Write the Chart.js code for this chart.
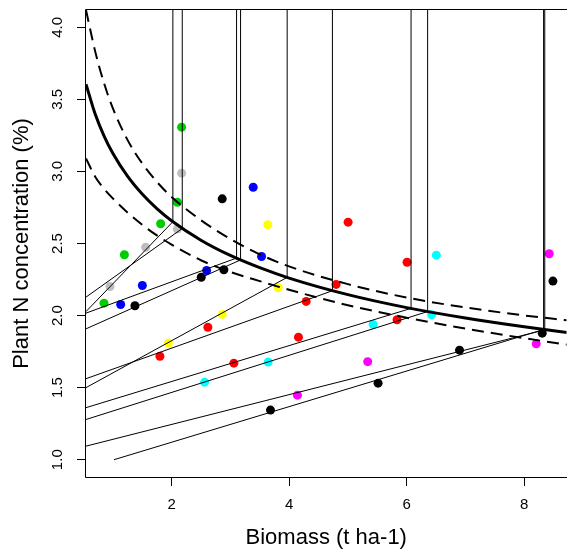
<!DOCTYPE html>
<html>
<head>
<meta charset="utf-8">
<script src="https://cdn.jsdelivr.net/npm/chart.js@4"></script>
<style>
  html, body { margin: 0; padding: 0; background: #fff; overflow: hidden; }
  canvas { display: block; }
</style>
</head>
<body>
<canvas id="grafico" width="571" height="554"></canvas>
<script>
// axis ticks
const xTicks = [2, 4, 6, 8];
const yTicks = [1.0, 1.5, 2.0, 2.5, 3.0, 3.5, 4.0];
const yTickLabels = ["1.0", "1.5", "2.0", "2.5", "3.0", "3.5", "4.0"];

// critical curve and its two bounds
const curveX = [0.544, 0.7, 0.85, 1.0, 1.25, 1.5, 1.75, 2.0, 2.5, 3.0, 3.5, 4.0, 5.0, 6.0, 7.0, 8.0, 8.8];
const curveY = [3.605, 3.398, 3.247, 3.126, 2.967, 2.843, 2.742, 2.658, 2.523, 2.417, 2.332, 2.260, 2.145, 2.055, 1.983, 1.922, 1.879];
const upperY = [4.12, 3.833, 3.614, 3.439, 3.219, 3.056, 2.928, 2.823, 2.662, 2.531, 2.425, 2.341, 2.218, 2.125, 2.056, 2.001, 1.964];
const lowerY = [3.09, 2.963, 2.880, 2.813, 2.715, 2.630, 2.556, 2.493, 2.384, 2.303, 2.239, 2.179, 2.072, 1.985, 1.910, 1.843, 1.794];

// observed points per group
const greenX = [0.85, 1.197, 1.814, 2.098, 2.171];
const greenY = [2.086, 2.422, 2.637, 2.786, 3.307];
const grayX = [0.952, 1.559, 2.098, 2.171];
const grayY = [2.202, 2.474, 2.600, 2.988];
const blueX = [1.134, 1.503, 2.596, 3.389, 3.531];
const blueY = [2.077, 2.209, 2.313, 2.890, 2.410];
const blackX = [1.377, 2.505, 2.89, 2.862, 3.683, 5.514, 6.9, 8.307, 8.489];
const blackY = [2.068, 2.266, 2.318, 2.81, 1.344, 1.531, 1.760, 1.878, 2.239];
const yellowX = [1.945, 2.863, 3.814, 3.638];
const yellowY = [1.809, 2.008, 2.193, 2.630];
const redX = [1.802, 2.618, 3.06, 4.159, 4.29, 4.8, 5.004, 6.007, 5.837];
const redY = [1.718, 1.919, 1.670, 1.850, 2.098, 2.216, 2.648, 2.370, 1.971];
const cyanX = [2.562, 3.644, 5.429, 6.425, 6.505];
const cyanY = [1.538, 1.677, 1.938, 2.005, 2.419];
const magentaX = [4.142, 5.337, 8.205, 8.426];
const magentaY = [1.448, 1.680, 1.804, 2.429];

// regression lines, from start to where they meet the curve
const lineStartX = [0.544, 0.544, 0.544, 0.544, 0.544, 0.544, 0.544, 0.544, 0.544, 1.02];
const lineStartY = [2.128, 2.028, 2.017, 1.908, 1.500, 1.562, 1.361, 1.279, 1.094, 1.0];
const lineEndX = [2.182, 2.022, 3.106, 3.174, 3.967, 4.737, 6.075, 6.357, 8.35, 8.33];
const lineEndY = [2.604, 2.651, 2.399, 2.386, 2.265, 2.172, 2.050, 2.028, 1.901, 1.903];
const topY = 4.12;

function pares(xs, ys) {
    return xs.map((x, i) => ({ x: x, y: ys[i] }));
}

let datasets = [];

function grupo(xs, ys, color) {
    datasets.push({
        data: pares(xs, ys),
        showLine: false,
        pointRadius: 4.5,
        pointBorderWidth: 0,
        pointBackgroundColor: color,
        pointBorderColor: color,
        order: 3
    });
}

grupo(greenX, greenY, "#00CD00");
grupo(grayX, grayY, "#BEBEBE");
grupo(blueX, blueY, "#0000FF");
grupo(blackX, blackY, "#000000");
grupo(yellowX, yellowY, "#FFFF00");
grupo(redX, redY, "#FF0000");
grupo(cyanX, cyanY, "#00FFFF");
grupo(magentaX, magentaY, "#FF00FF");

// regression segments + verticals to the top
for (let i = 0; i < lineStartX.length; i++) {
    datasets.push({
        data: [{ x: lineStartX[i], y: lineStartY[i] }, { x: lineEndX[i], y: lineEndY[i] }, { x: lineEndX[i], y: topY }],
        showLine: true,
        borderColor: "#000",
        borderWidth: 1,
        pointRadius: 0,
        order: 2
    });
}

datasets.push({
    data: pares(curveX, curveY),
    showLine: true, borderColor: "#000", borderWidth: 3, pointRadius: 0,
    cubicInterpolationMode: "monotone", order: 1
});
datasets.push({
    data: pares(curveX, upperY),
    showLine: true, borderColor: "#000", borderWidth: 2, borderDash: [12, 7], pointRadius: 0,
    cubicInterpolationMode: "monotone", order: 1
});
datasets.push({
    data: pares(curveX, lowerY),
    showLine: true, borderColor: "#000", borderWidth: 2, borderDash: [12, 7], pointRadius: 0,
    cubicInterpolationMode: "monotone", order: 1
});

const fuente = '"Liberation Sans", Arial, Helvetica, sans-serif';

// box (right side is off the picture) and vertical y tick labels, R style
const marco = {
    id: "marco",
    afterDraw(chart) {
        const ctx = chart.ctx;
        const a = chart.chartArea;
        const y = chart.scales.y;
        const l = Math.round(a.left) - 0.5;
        const t = Math.round(a.top) - 0.5;
        const b = Math.round(a.bottom) + 0.5;
        ctx.save();
        ctx.strokeStyle = "#000";
        ctx.lineWidth = 1;
        ctx.beginPath();
        ctx.moveTo(chart.width + 2, t);
        ctx.lineTo(l, t);
        ctx.lineTo(l, b);
        ctx.lineTo(chart.width + 2, b);
        ctx.stroke();
        ctx.fillStyle = "#000";
        ctx.font = "15px " + fuente;
        ctx.textAlign = "center";
        ctx.textBaseline = "middle";
        yTicks.forEach((v, i) => {
            ctx.save();
            ctx.translate(58, y.getPixelForValue(v));
            ctx.rotate(-Math.PI / 2);
            ctx.fillText(yTickLabels[i], 0, 0);
            ctx.restore();
        });
        ctx.restore();
    }
};

const ctx = document.getElementById("grafico").getContext("2d");
window.myChart = new Chart(ctx, {
    type: "scatter",
    data: { datasets: datasets },
    options: {
        responsive: false,
        animation: false,
        layout: { padding: { top: 10, left: 0, right: 0, bottom: 0 } },
        plugins: { legend: { display: false }, tooltip: { enabled: false } },
        scales: {
            x: {
                type: "linear",
                min: 0.544,
                max: 8.72,
                afterBuildTicks: (s) => { s.ticks = xTicks.map(v => ({ value: v })); },
                afterFit: (s) => { s.height = 77; },
                grid: { display: true, drawOnChartArea: false, drawTicks: true, tickLength: 9, color: "#000" },
                border: { display: false },
                ticks: { color: "#000", font: { family: fuente, size: 15 }, padding: 10, maxRotation: 0 },
                title: { display: true, text: "Biomass (t ha-1)", color: "#000", font: { family: fuente, size: 22 }, padding: { top: 0, bottom: 3 } }
            },
            y: {
                type: "linear",
                min: 0.88,
                max: 4.12,
                afterBuildTicks: (s) => { s.ticks = yTicks.map(v => ({ value: v })); },
                afterFit: (s) => { s.width = 86; },
                grid: { display: true, drawOnChartArea: false, drawTicks: true, tickLength: 9, color: "#000" },
                border: { display: false },
                ticks: { display: false },
                title: { display: true, text: "Plant N concentration (%)", color: "#000", font: { family: fuente, size: 22 }, padding: { top: 9, bottom: 0 } }
            }
        }
    },
    plugins: [marco]
});
</script>
</body>
</html>
